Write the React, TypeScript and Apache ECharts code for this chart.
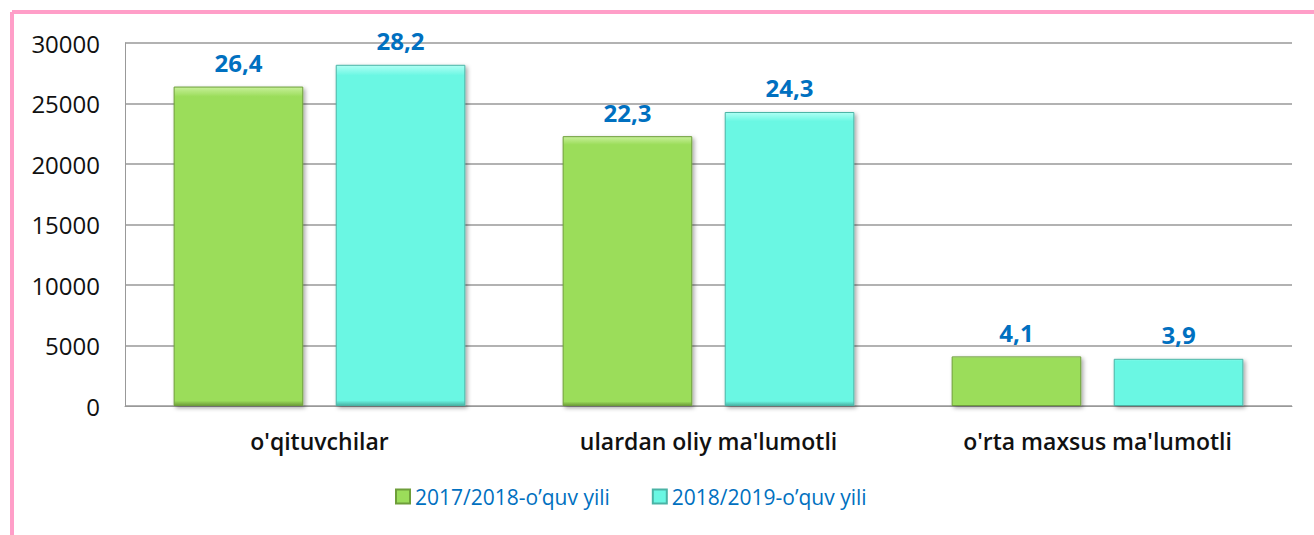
import React, { useEffect, useRef } from "react";
import * as echarts from "echarts";

const categories = ["o'qituvchilar", "ulardan oliy ma'lumotli", "o'rta maxsus ma'lumotli"];
const seriesNames = ["2017/2018-o’quv yili", "2018/2019-o’quv yili"];
const values2017 = [26400, 22300, 4100];
const values2018 = [28200, 24300, 3900];
const yTicks = [0, 5000, 10000, 15000, 20000, 25000, 30000];

const FONT = "'Open Sans', Lato, sans-serif";

export default function App() {
  const ref = useRef<HTMLDivElement>(null);
  useEffect(() => {
    if (!ref.current) return;
    const chart = echarts.init(ref.current, null, { renderer: "svg" });
    const fmt = (p: any) => (p.value / 1000).toFixed(1).replace(".", ",");
    const mkSeries = (name: string, data: number[], top: string, mid: string, border: string) => ({
      name,
      type: "bar",
      data,
      barGap: "25%",
      barCategoryGap: "25%",
      itemStyle: {
        color: new echarts.graphic.LinearGradient(0, 0, 0, 1, [
          { offset: 0, color: top },
          { offset: 0.03, color: mid },
          { offset: 0.985, color: mid },
          { offset: 1, color: border },
        ]),
        borderColor: border,
        borderWidth: 1,
        shadowColor: "rgba(0,0,0,0.35)",
        shadowBlur: 4,
        shadowOffsetX: 2,
        shadowOffsetY: 2,
      },
      label: {
        show: true,
        position: "top",
        distance: 12,
        formatter: fmt,
        color: "#0070C0",
        fontWeight: "bold",
        fontSize: 24,
        fontFamily: FONT,
      },
    });
    chart.setOption({
      animation: false,
      backgroundColor: "#ffffff",
      graphic: [
        {
          type: "line",
          shape: { x1: 12, y1: 12, x2: 1314, y2: 12 },
          style: { stroke: "#FF9EC8", lineWidth: 4 },
        },
        {
          type: "line",
          shape: { x1: 12, y1: 12, x2: 12, y2: 535 },
          style: { stroke: "#FF9EC8", lineWidth: 4 },
        },
      ],
      grid: { left: 125, right: 22, top: 43, bottom: 129, containLabel: false },
      legend: {
        data: seriesNames,
        top: 481,
        left: 390,
        itemWidth: 14,
        itemHeight: 14,
        itemGap: 42,
        icon: "rect",
        textStyle: { color: "#0070C0", fontSize: 21, fontFamily: FONT, fontWeight: 500 },
      },
      xAxis: {
        type: "category",
        data: categories,
        axisLine: { show: true, lineStyle: { color: "#999", width: 1 } },
        axisTick: { show: false },
        axisLabel: { color: "#111", fontSize: 23, fontFamily: FONT, fontWeight: 600, margin: 23 },
      },
      yAxis: {
        type: "value",
        min: yTicks[0],
        max: yTicks[yTicks.length - 1],
        interval: 5000,
        axisLine: { show: true, lineStyle: { color: "#999", width: 1 } },
        axisTick: { show: false },
        splitLine: { lineStyle: { color: "#999", width: 1.5 } },
        axisLabel: {
          color: "#111",
          fontSize: 24,
          fontFamily: FONT,
          margin: 25,
          formatter: (v: number) => String(v),
        },
      },
      series: [
        mkSeries(seriesNames[0], values2017, "#C8F09A", "#9BDD5A", "#6E9E3A"),
        mkSeries(seriesNames[1], values2018, "#B0FFF4", "#6AF7E3", "#4AB3A5"),
      ],
      color: ["#9BDD5A", "#6AF7E3"],
    });
    return () => chart.dispose();
  }, []);
  return (
    <div
      ref={ref}
      style={{ position: "fixed", left: 0, top: 0, width: 1314, height: 535 }}
    />
  );
}
